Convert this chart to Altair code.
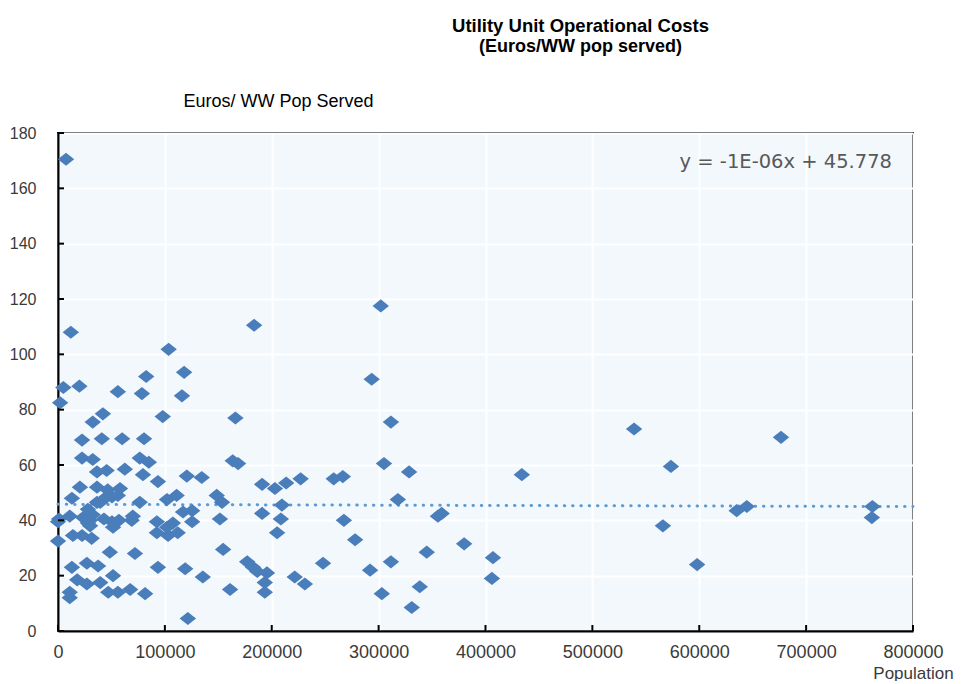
import altair as alt
import pandas as pd

# ---- data ----
population = [
    7500, 12000, 2000, 5000, 20000, 56000, 78500, 82500, 32500, 42000,
    22500, 41000, 60000, 80500, 22500, 32500, 36500, 45500, 62500, 76500,
    85000, 79500, 20500, 36500, 13000, 46500, 58000, 1000, 11000, 0,
    14000, 22500, 31500, 50500, 51500, 69000, 70000, 76500, 28000, 30000,
    30000, 36500, 45500, 56000, 48500, 72000, 13000, 27000, 37500, 51500,
    18000, 27000, 39500, 11000, 11000, 47000, 56000, 67500, 81500, 103500,
    118000, 116000, 98000, 166000, 163500, 168500, 93500, 120500, 134500, 102000,
    111000, 148500, 153500, 117000, 125500, 125500, 92500, 92500, 107500, 103000,
    112000, 151500, 154500, 93500, 119000, 135500, 177000, 182500, 161000, 121500,
    183500, 302000, 293500, 311500, 305000, 328500, 318000, 355500, 359000, 267500,
    278000, 248000, 292000, 311500, 345000, 380000, 338500, 303000, 331000, 191000,
    203000, 213500, 227000, 258000, 266500, 209500, 191000, 208500, 205000, 186500,
    195500, 193500, 193500, 221500, 231000, 407000, 406000, 539000, 676500, 573500,
    434000, 635000, 644500, 762000, 761500, 566000, 598000, 39500, 50500, 23500,
    32500, 28000, 0, 102000, 57000, 43000,
]
cost = [
    170.5, 108, 82.5, 88, 88.5, 86.5, 85.8, 92, 75.5, 78.5,
    69, 69.5, 69.5, 69.5, 62.5, 62, 57.5, 58, 58.5, 62.5,
    61, 56.5, 52, 52, 48, 51, 51.5, 40.5, 41.5, 32.5,
    34.5, 34.5, 33.5, 39.5, 37.5, 40, 41.5, 46.5, 44, 40,
    38, 46.5, 48.5, 49, 28.5, 28, 23, 24.5, 23.5, 20,
    18.5, 17, 17.5, 14, 12, 14, 14, 15, 13.5, 101.8,
    93.5, 85, 77.5, 77, 61.5, 60.5, 54, 56, 55.5, 47.5,
    49, 49, 46.5, 43, 43.5, 39.5, 39.5, 35.5, 39, 34.5,
    35.5, 40.5, 29.5, 23, 22.5, 19.5, 25, 23, 15, 4.5,
    110.5, 117.5, 91, 75.5, 60.5, 57.5, 47.5, 41.5, 42.5, 40,
    33, 24.5, 22, 25, 28.5, 31.5, 16, 13.5, 8.5, 53,
    51.5, 53.5, 55, 55, 55.8, 45.5, 42.5, 40.5, 35.5, 21.5,
    21, 17.5, 14, 19.5, 17, 26.5, 19, 73, 70, 59.5,
    56.5, 43.5, 45, 45, 41, 38, 24, 46.5, 48.5, 41,
    42, 39, 39.5, 37.5, 40, 40.5,
]

x_ticks = [0, 100000, 200000, 300000, 400000, 500000, 600000, 700000, 800000]
y_ticks = [0, 20, 40, 60, 80, 100, 120, 140, 160, 180]

TREND_SLOPE = -1e-06
TREND_INTERCEPT = 45.778
EQUATION = "y = -1E-06x + 45.778"

df = pd.DataFrame({"Population": population, "Cost": cost})
trend_df = pd.DataFrame({"Population": [x_ticks[0], x_ticks[-1]]})
trend_df["Cost"] = TREND_INTERCEPT + TREND_SLOPE * trend_df["Population"]

W, H = 855, 498
FONT = "Liberation Sans"
LABEL_COLOR = "#3a3a3a"

xscale = alt.Scale(domain=[x_ticks[0], x_ticks[-1]], nice=False)
yscale = alt.Scale(domain=[y_ticks[0], y_ticks[-1]], nice=False)

xaxis = alt.Axis(
    values=x_ticks, format="d", grid=True, gridColor="white", gridWidth=2,
    gridOpacity=1, domainColor="black", domainWidth=2, ticks=False,
    labelPadding=12, labelFont=FONT, labelFontSize=18, labelColor=LABEL_COLOR,
    labelFlush=False, labelOverlap=False,
    title="Population", titleFont=FONT, titleFontSize=17, titleFontWeight="normal",
    titleColor=LABEL_COLOR, titleX=855, titleY=42, titleAlign="center",
    titleBaseline="middle",
)
yaxis = alt.Axis(
    values=y_ticks, format="d", grid=True, gridColor="white", gridWidth=2,
    gridOpacity=1, domainColor="black", domainWidth=2, ticks=False,
    labelPadding=22, labelFont=FONT, labelFontSize=16, labelColor=LABEL_COLOR,
    labelFlush=False, labelOverlap=False,
    title="Euros/ WW Pop Served", titleFont=FONT, titleFontSize=18,
    titleFontWeight="normal", titleColor="black", titleAngle=0,
    titleX=220, titleY=-32, titleAlign="center", titleBaseline="middle",
)

diamond = "M-1,0L0,-0.8L1,0L0,0.8Z"

points = alt.Chart(df).mark_point(
    shape=diamond, filled=True, size=270, color="#4A7EBB", opacity=1
).encode(
    x=alt.X("Population:Q", scale=xscale, axis=xaxis),
    y=alt.Y("Cost:Q", scale=yscale, axis=yaxis),
)

trend = alt.Chart(trend_df).mark_line(
    color="#5B9BD5", strokeWidth=3, strokeCap="round", strokeDash=[0.5, 7.8]
).encode(
    x=alt.X("Population:Q", scale=xscale),
    y=alt.Y("Cost:Q", scale=yscale),
)

xt = alt.Chart(pd.DataFrame({"Population": x_ticks})).mark_rule(
    color="black", strokeWidth=2
).encode(
    x=alt.X("Population:Q", scale=xscale),
    y=alt.value(H), y2=alt.value(H - 6),
)
yt = alt.Chart(pd.DataFrame({"Cost": y_ticks})).mark_rule(
    color="black", strokeWidth=2
).encode(
    y=alt.Y("Cost:Q", scale=yscale),
    x=alt.value(0), x2=alt.value(6),
)

eq = alt.Chart(pd.DataFrame({"label": [EQUATION]})).mark_text(
    font="DejaVu Sans", fontSize=19.5, color="#595959", align="right",
    baseline="middle",
).encode(text="label:N", x=alt.value(834), y=alt.value(29))

chart = alt.layer(trend, points, xt, yt, eq).properties(
    width=W, height=H,
    autosize=alt.AutoSizeParams(type="none"),
    padding={"left": 50, "top": 125, "right": 46, "bottom": 50},
    view=alt.ViewBackground(fill="#F2F8FC", stroke="black", strokeWidth=2),
    title=alt.TitleParams(
        text="Utility Unit Operational Costs",
        subtitle="(Euros/WW pop served)",
        font=FONT, fontSize=18.5, fontWeight="bold", color="black",
        subtitleFont=FONT, subtitleFontSize=18, subtitleFontWeight="bold",
        subtitleColor="black", subtitlePadding=3,
        anchor="middle", frame="group", offset=36, dx=95,
    ),
).configure_view(
    fill="#F2F8FC", stroke="black", strokeWidth=2
).configure(background="white")

chart.save("out.html", embed_options={"renderer": "svg", "actions": False})
